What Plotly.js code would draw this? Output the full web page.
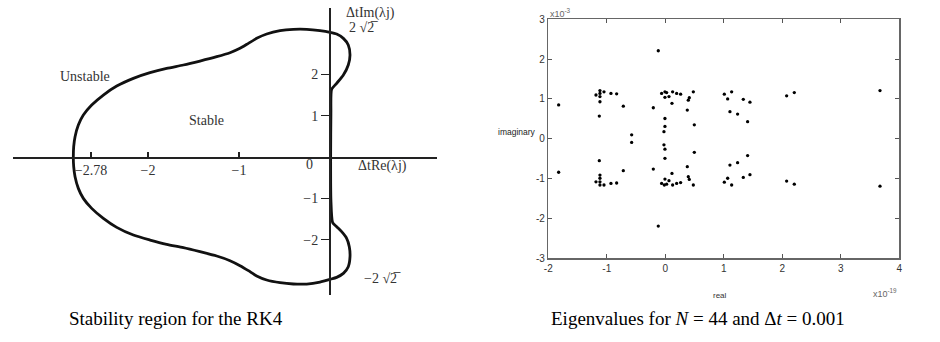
<!DOCTYPE html>
<html>
<head>
<meta charset="utf-8">
<script src="https://cdn.plot.ly/plotly-3.0.1.min.js"></script>
<style>html,body{margin:0;padding:0;background:#fff;}#chart{width:940px;height:342px;}</style>
</head>
<body>
<div id="chart"></div>
<script>
// ---- Left panel: RK4 stability boundary (units of Δt·λ) ----
const boundaryRe = [0.018,0.073,0.147,0.201,0.220,0.201,0.147,0.073,0.000,-0.110,-0.256,-0.403,-0.549,-0.696,-0.806,-0.897,-0.989,-1.099,-1.245,-1.429,-1.612,-1.795,-1.978,-2.161,-2.344,-2.491,-2.619,-2.711,-2.766,-2.802,-2.817,-2.821,-2.817,-2.802,-2.766,-2.711,-2.619,-2.491,-2.344,-2.161,-1.978,-1.795,-1.612,-1.429,-1.245,-1.099,-0.989,-0.897,-0.806,-0.696,-0.549,-0.403,-0.256,-0.110,0.000,0.073,0.147,0.201,0.220,0.212,0.183,0.128,0.073,0.029,0.010,0.007,0.007,0.010,0.018];
const boundaryIm = [1.638,1.784,1.985,2.228,2.470,2.712,2.873,2.978,3.019,3.059,3.091,3.091,3.059,2.978,2.873,2.752,2.631,2.526,2.429,2.324,2.228,2.147,2.042,1.905,1.719,1.501,1.259,1.017,0.775,0.492,0.250,0.000,-0.234,-0.476,-0.759,-1.001,-1.243,-1.485,-1.703,-1.889,-2.010,-2.115,-2.195,-2.292,-2.397,-2.510,-2.631,-2.752,-2.881,-2.978,-3.043,-3.075,-3.075,-3.027,-2.962,-2.914,-2.817,-2.655,-2.413,-2.171,-1.969,-1.808,-1.687,-1.590,-1.041,0.000,0.000,1.057,1.638];
const leftXTickVals = [-2.626, -2, -1];
const leftXTickText = ["\u22122.78", "\u22122", "\u22121"];
const leftYTickVals = [-2, -1, 1, 2];
const leftYTickText = ["\u22122", "\u22121", "1", "2"];

// ---- Right panel: eigenvalues (real part ×1e-19, imaginary part ×1e-3) ----
const eigRe = [
 -1.823,-1.185,-1.117,-1.117,-1.117,-1.117,-1.048,-0.929,-0.832,-0.718,-1.128,-0.575,
 -0.120,-0.205,-0.063,-0.006,-0.006,0.023,0.063,0.125,0.114,0.194,0.262,0.376,0.393,0.410,0.479,0.496,
 -0.006,-0.006,-0.023,
 1.009,1.066,1.134,1.105,1.236,1.333,1.447,1.407,2.074,2.205,3.670,
 -1.823,-1.185,-1.117,-1.117,-1.117,-1.117,-1.048,-0.929,-0.832,-0.718,-1.128,-0.575,
 -0.120,-0.205,-0.063,-0.006,-0.017,0.023,0.063,0.125,0.114,0.194,0.262,0.376,0.393,0.410,0.479,0.496,
 -0.006,-0.006,-0.023,
 1.009,1.066,1.134,1.105,1.236,1.333,1.447,1.407,2.074,2.205,3.670
];
const eigIm = [
 0.85,1.10,1.21,1.14,1.06,0.93,1.18,1.14,1.13,0.82,0.57,0.10,
 2.21,0.78,1.14,1.18,1.04,1.16,1.06,1.18,0.89,1.14,1.12,0.72,0.97,1.03,1.18,0.35,
 0.51,0.31,0.18,
 1.12,1.00,1.18,0.68,0.62,0.99,0.92,0.43,1.08,1.16,1.21,
 -0.84,-1.08,-0.91,-0.99,-1.08,-1.16,-1.16,-1.12,-1.11,-0.80,-0.55,-0.09,
 -2.19,-0.76,-1.12,-1.01,-1.16,-1.14,-1.05,-1.16,-0.87,-1.12,-1.10,-0.70,-0.95,-1.02,-1.16,-0.34,
 -0.49,-0.26,-0.15,
 -1.09,-0.99,-1.16,-0.66,-0.60,-0.97,-0.90,-0.42,-1.06,-1.14,-1.19
];
const rightXTickVals = [-2,-1,0,1,2,3,4];
const rightXTickText = ["-2","-1","0","1","2","3","4"];
const rightYTickVals = [-3,-2,-1,0,1,2,3];
const rightYTickText = ["-3","-2","-1","0","1","2","3"];

const captions = ["Stability region for the RK4", "Eigenvalues for <i>N</i> = 44 and \u0394<i>t</i> = 0.001"];

const serif = "Liberation Serif, Times New Roman, serif";
const narrow = "Liberation Sans Narrow, Liberation Sans, Arial, sans-serif";

const traces = [
  {x: boundaryRe, y: boundaryIm, xaxis: 'x', yaxis: 'y', mode: 'lines',
   line: {color: '#111', width: 2.8, shape: 'spline', smoothing: 0.6},
   hoverinfo: 'skip', showlegend: false},
  {x: eigRe, y: eigIm, xaxis: 'x2', yaxis: 'y2', mode: 'markers',
   marker: {color: '#000', size: 3.3, symbol: 'circle'},
   hoverinfo: 'skip', showlegend: false}
];

const leftFont = {family: serif, size: 14, color: '#333'};
const rightTick = {family: narrow, size: 10, color: '#333'};

function ann(text, x, y, xref, yref, font, xanchor) {
  return {text: text, x: x, y: y, xref: xref, yref: yref, showarrow: false, font: font,
          xanchor: xanchor || 'center', yanchor: 'middle'};
}

const layout = {
  width: 940, height: 342,
  margin: {l: 0, r: 0, t: 0, b: 0},
  paper_bgcolor: '#fff', plot_bgcolor: 'rgba(0,0,0,0)',
  showlegend: false,
  xaxis: {
    domain: [0.01383, 0.46489], range: [-3.484, 1.176],
    anchor: 'free', position: 0.5409,
    showgrid: false, zeroline: false, showline: true, linecolor: '#222', linewidth: 1.6,
    ticks: 'inside', ticklen: 5, tickwidth: 1.4, tickcolor: '#222',
    tickmode: 'array', tickvals: leftXTickVals, ticktext: leftXTickText,
    tickfont: leftFont, fixedrange: true
  },
  yaxis: {
    domain: [0.1374, 0.9766], range: [-3.341, 3.608],
    anchor: 'free', position: 0.35106,
    showgrid: false, zeroline: false, showline: true, linecolor: '#222', linewidth: 2,
    ticks: 'outside', ticklen: 8, tickwidth: 1.4, tickcolor: '#222',
    tickmode: 'array', tickvals: leftYTickVals, ticktext: leftYTickText,
    tickfont: leftFont, fixedrange: true
  },
  xaxis2: {
    domain: [0.5833, 0.9567], range: [-2, 4], anchor: 'y2',
    showgrid: false, zeroline: false, showline: true, mirror: 'ticks',
    linecolor: '#666', linewidth: 1.4,
    ticks: 'inside', ticklen: 4, tickcolor: '#555', tickwidth: 1,
    tickmode: 'array', tickvals: rightXTickVals, ticktext: rightXTickText,
    tickfont: rightTick, fixedrange: true
  },
  yaxis2: {
    domain: [0.2447, 0.9436], range: [-3, 3], anchor: 'x2',
    showgrid: false, zeroline: false, showline: true, mirror: 'ticks',
    linecolor: '#666', linewidth: 1.4,
    ticks: 'inside', ticklen: 4, tickcolor: '#555', tickwidth: 1,
    tickmode: 'array', tickvals: rightYTickVals, ticktext: rightYTickText,
    tickfont: rightTick, fixedrange: true
  },
  annotations: [
    ann('Unstable', -2.692, 1.961, 'x', 'y', leftFont),
    ann('Stable', -1.352, 0.896, 'x', 'y', leftFont),
    ann('\u0394tIm(\u03BBj)', 0.44, 3.487, 'x', 'y', leftFont),
    ann('2 \u221A2\u0305', 0.363, 3.13, 'x', 'y', leftFont),
    ann('\u0394tRe(\u03BBj)', 0.582, -0.218, 'x', 'y', leftFont),
    ann('\u22122 \u221A2\u0305', 0.582, -2.93, 'x', 'y', leftFont),
    ann('0', -0.22, -0.19, 'x', 'y', leftFont),
    ann('imaginary', 0.5505, 0.614, 'paper', 'paper', {family: narrow, size: 8.5, color: '#222'}),
    ann('real', 0.766, 0.137, 'paper', 'paper', {family: narrow, size: 8, color: '#333'}),
    ann('x10<sup>-3</sup>', 0.5835, 0.962, 'paper', 'paper', {family: narrow, size: 9, color: '#666'}, 'left'),
    ann('x10<sup>-19</sup>', 0.9567, 0.143, 'paper', 'paper', {family: narrow, size: 9, color: '#666'}, 'right'),
    ann(captions[0], 0.187, 0.07, 'paper', 'paper', {family: serif, size: 19, color: '#000'}),
    ann(captions[1], 0.7426, 0.07, 'paper', 'paper', {family: serif, size: 19, color: '#000'})
  ]
};

Plotly.newPlot('chart', traces, layout, {staticPlot: true, displayModeBar: false});
</script>
</body>
</html>
